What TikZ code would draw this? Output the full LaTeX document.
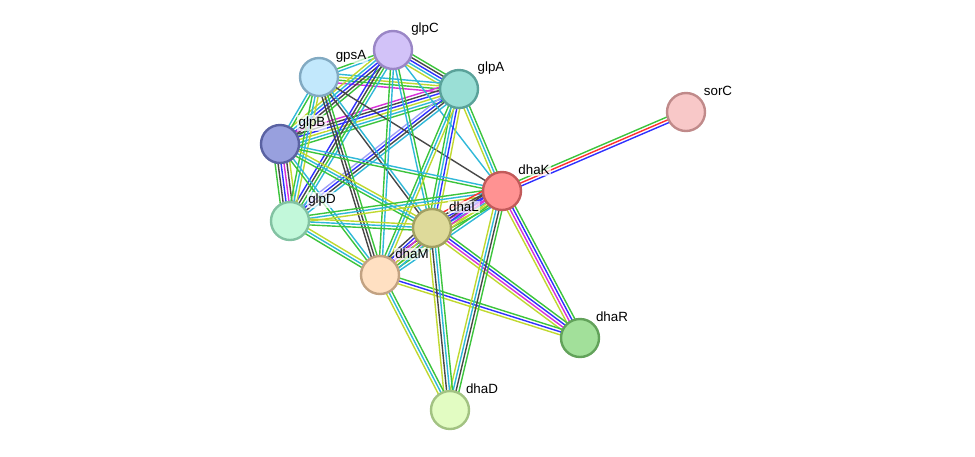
\documentclass[tikz,border=0pt]{standalone}
\usepackage{fontspec}
\setmainfont{Liberation Sans}
\usetikzlibrary{calc}
\pgfdeclarelayer{background}
\pgfsetlayers{background,main}
\definecolor{sgreen}{HTML}{3CC43C}
\definecolor{sred}{HTML}{FF3030}
\definecolor{sblue}{HTML}{3030FF}
\definecolor{scyan}{HTML}{30B8D8}
\definecolor{smag}{HTML}{D830D8}
\definecolor{slime}{HTML}{C0D830}
\definecolor{sblack}{HTML}{484848}
\definecolor{slav}{HTML}{A0A0F8}
\definecolor{fglpC}{HTML}{D2C2F8}\definecolor{bglpC}{HTML}{9A86C6}
\definecolor{fgpsA}{HTML}{C2E8FC}\definecolor{bgpsA}{HTML}{82AAC2}
\definecolor{fglpA}{HTML}{9ADFD6}\definecolor{bglpA}{HTML}{5AA29A}
\definecolor{fsorC}{HTML}{F8C8C8}\definecolor{bsorC}{HTML}{C08A8A}
\definecolor{fglpB}{HTML}{98A0DE}\definecolor{bglpB}{HTML}{5A62A2}
\definecolor{fdhaK}{HTML}{FF9292}\definecolor{bdhaK}{HTML}{C25A5A}
\definecolor{fglpD}{HTML}{C2F8DA}\definecolor{bglpD}{HTML}{82C2A2}
\definecolor{fdhaL}{HTML}{DEDA9A}\definecolor{bdhaL}{HTML}{A2A062}
\definecolor{fdhaM}{HTML}{FFE0C2}\definecolor{bdhaM}{HTML}{C2A282}
\definecolor{fdhaR}{HTML}{A2E09A}\definecolor{bdhaR}{HTML}{62A25A}
\definecolor{fdhaD}{HTML}{E2FCC2}\definecolor{bdhaD}{HTML}{A2C282}
\tikzset{
	prot/.style={circle, minimum size=0.95cm, inner sep=0pt, line width=1.7pt, fill=f#1, draw=b#1},
	lab/.style={font=\fontsize{9.5}{11}\selectfont, fill=white, fill opacity=0.7, text opacity=1, inner sep=1pt},
	edge/.style={line width=1pt}
}
\newcommand{\interact}[3]{%
	\foreach \c [count=\n] in {#3} {\xdef\linkn{\n}}%
	\foreach \c [count=\i] in {#3} {%
		\pgfmathsetmacro{\off}{(\i-(\linkn+1)/2)*2.1}%
		\draw[edge,\c] ($(#1.center)!\off pt!90:(#2.center)$) -- ($(#2.center)!\off pt!-90:(#1.center)$);
	}}
\begin{document}
\begin{tikzpicture}[x=0.025cm, y=-0.025cm, line join=round, line cap=round]
	\useasboundingbox (0,0) rectangle (975,456);
	\node[prot=glpC] (glpC) at (393,50) {};
	\node[prot=gpsA] (gpsA) at (319,77) {};
	\node[prot=glpA] (glpA) at (459,89) {};
	\node[prot=sorC] (sorC) at (686,112) {};
	\node[prot=glpB] (glpB) at (280,144) {};
	\node[prot=dhaK] (dhaK) at (502,191) {};
	\node[prot=glpD] (glpD) at (290,221) {};
	\node[prot=dhaL] (dhaL) at (432,228) {};
	\node[prot=dhaM] (dhaM) at (380,275) {};
	\node[prot=dhaR] (dhaR) at (580,338) {};
	\node[prot=dhaD] (dhaD) at (450,410) {};
	\foreach \p in {glpC,gpsA,glpA,sorC,glpB,dhaK,glpD,dhaL,dhaM,dhaR,dhaD}
		\node[lab] (\p-t) at ($(\p)+(32,-21)$) {\p};
	\begin{pgfonlayer}{background}
		\interact{glpC}{glpA}{slime,scyan,sblue,sblack,sgreen}
		\interact{glpC}{gpsA}{sgreen,scyan}
		\interact{gpsA}{glpA}{smag,sgreen,slime,scyan}
		\interact{glpC}{glpB}{slime,scyan,sblue,sblack,sgreen}
		\interact{glpA}{glpB}{smag,sblack,sblue,slime,scyan,sgreen}
		\interact{glpB}{glpD}{sgreen,sblack,sblue,smag,sblack,slime}
		\interact{glpA}{glpD}{slav,sblue,sblack,scyan}
		\interact{glpC}{glpD}{sblue,sblack,sgreen,scyan}
		\interact{gpsA}{glpB}{scyan,sgreen}
		\interact{gpsA}{glpD}{sgreen,scyan,slime}
		\interact{gpsA}{dhaM}{sblack,sblack,sgreen}
		\interact{gpsA}{dhaL}{sblack,scyan}
		\interact{gpsA}{dhaK}{sblack}
		\interact{glpC}{dhaK}{scyan}
		\interact{glpC}{dhaL}{scyan,sgreen}
		\interact{glpC}{dhaM}{sgreen,scyan}
		\interact{glpA}{dhaK}{slime,scyan,sgreen}
		\interact{glpA}{dhaL}{sgreen,scyan,sblue,slime}
		\interact{glpA}{dhaM}{sgreen,scyan,slime}
		\interact{glpB}{dhaK}{sgreen,scyan}
		\interact{glpB}{dhaL}{sgreen,scyan,slime}
		\interact{glpB}{dhaM}{sgreen,scyan}
		\interact{glpD}{dhaK}{slime,scyan,sgreen}
		\interact{glpD}{dhaL}{sgreen,scyan,slime}
		\interact{glpD}{dhaM}{sgreen,scyan,slime}
		\interact{dhaK}{dhaL}{sred,sblack,sblue,smag,scyan,slime,sgreen}
		\interact{dhaK}{dhaM}{sblack,sblue,smag,slime,sgreen,scyan}
		\interact{dhaL}{dhaM}{sblack,sblue,smag,slime,sgreen,scyan}
		\interact{dhaK}{dhaR}{slime,smag,sblue,sgreen}
		\interact{dhaL}{dhaR}{slime,smag,sblue,sgreen}
		\interact{dhaM}{dhaR}{slime,sblue,sgreen}
		\interact{dhaK}{dhaD}{slime,scyan,sblack,sgreen}
		\interact{dhaL}{dhaD}{slime,sblack,scyan,sgreen}
		\interact{dhaM}{dhaD}{slime,scyan,sgreen}
		\interact{dhaK}{sorC}{sblue,sred,sgreen}
	\end{pgfonlayer}
\end{tikzpicture}
\end{document}
